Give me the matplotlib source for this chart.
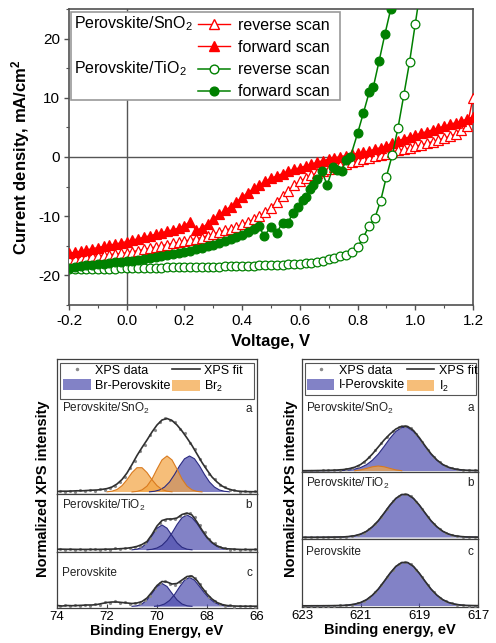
import matplotlib
matplotlib.use('Agg')
import matplotlib.pyplot as plt
from matplotlib.lines import Line2D
from matplotlib.patches import Patch, Rectangle
from matplotlib.ticker import MultipleLocator

plt.rcParams['font.family'] = ['Liberation Sans', 'DejaVu Sans']
plt.rcParams['axes.unicode_minus'] = False
plt.rcParams['mathtext.fontset'] = 'custom'
plt.rcParams['mathtext.rm'] = 'Liberation Sans'
plt.rcParams['mathtext.it'] = 'Liberation Sans:italic'
plt.rcParams['mathtext.bf'] = 'Liberation Sans:bold'

# ---------------- J-V data ----------------
v_sno2 = [-0.20, -0.18, -0.16, -0.14, -0.12, -0.10, -0.08, -0.06, -0.04, -0.02,
          0.00, 0.02, 0.04, 0.06, 0.08, 0.10, 0.12, 0.14, 0.16, 0.18,
          0.20, 0.22, 0.24, 0.26, 0.28, 0.30, 0.32, 0.34, 0.36, 0.38,
          0.40, 0.42, 0.44, 0.46, 0.48, 0.50, 0.52, 0.54, 0.56, 0.58,
          0.60, 0.62, 0.64, 0.66, 0.68, 0.70, 0.72, 0.74, 0.76, 0.78,
          0.80, 0.82, 0.84, 0.86, 0.88, 0.90, 0.92, 0.94, 0.96, 0.98,
          1.00, 1.02, 1.04, 1.06, 1.08, 1.10, 1.12, 1.14, 1.16, 1.18, 1.20]
j_sno2_rev = [-17.3, -17.15, -17.0, -16.9, -16.8, -16.7, -16.6, -16.5, -16.4, -16.3,
              -16.2, -16.0, -15.8, -15.6, -15.4, -15.2, -15.0, -14.8, -14.6, -14.4,
              -14.2, -14.0, -13.8, -13.6, -13.3, -13.0, -12.7, -12.4, -12.1, -11.8,
              -11.4, -11.0, -10.5, -10.0, -9.3, -8.6, -7.6, -6.6, -5.7, -4.8,
              -4.1, -3.6, -3.1, -2.7, -2.3, -2.0, -1.7, -1.4, -1.1, -0.8,
              -0.6, -0.4, -0.1, 0.1, 0.3, 0.5, 0.8, 1.1, 1.3, 1.5,
              1.8, 2.0, 2.3, 2.6, 2.9, 3.2, 3.5, 3.9, 4.5, 5.3, 10.0]
j_sno2_fwd = [-16.3, -16.1, -15.9, -15.7, -15.5, -15.3, -15.1, -14.9, -14.7, -14.5,
              -14.3, -14.05, -13.8, -13.55, -13.3, -13.05, -12.8, -12.55, -12.3, -12.0,
              -11.6, -10.9, -12.4, -12.0, -11.3, -10.5, -9.7, -9.0, -8.4, -7.6,
              -6.8, -6.0, -5.3, -4.7, -4.1, -3.6, -3.2, -2.8, -2.4, -2.1,
              -1.8, -1.5, -1.2, -0.9, -0.6, -0.4, -0.15, 0.05, 0.25, 0.45,
              0.6, 0.8, 1.0, 1.3, 1.6, 1.9, 2.3, 2.7, 3.1, 3.4,
              3.7, 4.0, 4.3, 4.6, 4.9, 5.2, 5.5, 5.8, 6.1, 6.4, 6.8]

v_tio2_rev = [-0.20, -0.18, -0.16, -0.14, -0.12, -0.10, -0.08, -0.06, -0.04, -0.02,
              0.00, 0.02, 0.04, 0.06, 0.08, 0.10, 0.12, 0.14, 0.16, 0.18,
              0.20, 0.22, 0.24, 0.26, 0.28, 0.30, 0.32, 0.34, 0.36, 0.38,
              0.40, 0.42, 0.44, 0.46, 0.48, 0.50, 0.52, 0.54, 0.56, 0.58,
              0.60, 0.62, 0.64, 0.66, 0.68, 0.70, 0.72, 0.74, 0.76, 0.78,
              0.80, 0.82, 0.84, 0.86, 0.88, 0.90, 0.92, 0.94, 0.96, 0.98,
              1.00, 1.02]
j_tio2_rev = [-19.0, -19.0, -18.95, -18.95, -18.9, -18.9, -18.9, -18.85, -18.85, -18.8,
              -18.8, -18.8, -18.75, -18.75, -18.7, -18.7, -18.7, -18.65, -18.65, -18.6,
              -18.6, -18.6, -18.55, -18.55, -18.5, -18.5, -18.5, -18.45, -18.45, -18.4,
              -18.4, -18.35, -18.35, -18.3, -18.3, -18.25, -18.2, -18.2, -18.15, -18.1,
              -18.0, -17.95, -17.85, -17.7, -17.5, -17.3, -17.1, -16.8, -16.5, -16.0,
              -15.2, -13.6, -11.6, -10.3, -7.4, -3.3, 0.3, 4.9, 10.4, 16.0,
              22.5, 29.0]

v_tio2_fwd = [-0.20, -0.18, -0.16, -0.14, -0.12, -0.10, -0.08, -0.06, -0.04, -0.02,
              0.00, 0.02, 0.04, 0.06, 0.08, 0.10, 0.12, 0.14, 0.16, 0.18,
              0.20, 0.22, 0.24, 0.26, 0.28, 0.30, 0.32, 0.34, 0.36, 0.38,
              0.40, 0.42, 0.44, 0.46, 0.475, 0.50, 0.52, 0.54, 0.56, 0.575,
              0.595, 0.61, 0.62, 0.635, 0.645, 0.66, 0.675, 0.695, 0.715, 0.73,
              0.745, 0.76, 0.775, 0.80, 0.82, 0.84, 0.855, 0.875, 0.895, 0.915]
j_tio2_fwd = [-18.7, -18.5, -18.4, -18.3, -18.2, -18.1, -18.0, -17.9, -17.8, -17.7,
              -17.6, -17.5, -17.4, -17.25, -17.1, -16.95, -16.8, -16.6, -16.4, -16.2,
              -16.0, -15.8, -15.6, -15.35, -15.1, -14.8, -14.5, -14.2, -13.85, -13.5,
              -13.1, -12.6, -12.1, -11.6, -13.4, -11.8, -12.8, -11.1, -11.1, -9.4,
              -8.4, -7.2, -6.7, -5.4, -4.7, -3.8, -2.4, -4.7, -1.7, -2.2,
              -2.4, -0.5, 0.0, 4.0, 7.4, 10.9, 11.9, 16.3, 20.8, 25.0]

v_ticks = [-0.2, 0.0, 0.2, 0.4, 0.6, 0.8, 1.0, 1.2]
j_ticks = [-20, -10, 0, 10, 20]

# ---------------- Br 3d XPS data ----------------
br_e = [74.0, 73.8, 73.6, 73.4, 73.2, 73.0, 72.8, 72.6, 72.4, 72.2,
        72.0, 71.8, 71.6, 71.4, 71.2, 71.0, 70.8, 70.6, 70.4, 70.2,
        70.0, 69.8, 69.6, 69.4, 69.2, 69.0, 68.8, 68.6, 68.4, 68.2,
        68.0, 67.8, 67.6, 67.4, 67.2, 67.0, 66.8, 66.6, 66.4, 66.2, 66.0]
br_e_data = [73.9, 73.7, 73.5, 73.3, 73.1, 72.9, 72.7, 72.5, 72.3, 72.1,
             71.9, 71.7, 71.5, 71.3, 71.1, 70.9, 70.7, 70.5, 70.3, 70.1,
             69.9, 69.7, 69.5, 69.3, 69.1, 68.9, 68.7, 68.5, 68.3, 68.1,
             67.9, 67.7, 67.5, 67.3, 67.1, 66.9, 66.7, 66.5, 66.3, 66.1]

br_fit_sno2 = [0.5, 0.8, 0.8, 1.0, 1.2, 1.2, 1.5, 1.8, 2.0, 2.6,
               3.4, 5.0, 8.0, 12.5, 19.0, 27.5, 36.5, 44.5, 52.0, 60.0,
               67.0, 72.0, 73.5, 71.5, 67.0, 61.0, 54.0, 46.5, 38.0, 29.5,
               22.0, 15.0, 10.0, 6.0, 3.5, 2.0, 1.0, 0.6, 0.4, 0.3, 0.3]
br_data_sno2 = [1.5, 0.0, 1.2, 0.5, 2.0, 1.0, 2.5, 1.5, 3.0, 2.5,
                4.5, 6.0, 10.5, 15.0, 24.0, 31.0, 41.5, 47.0, 57.5, 62.0,
                70.5, 74.0, 72.0, 70.5, 63.0, 59.0, 49.0, 43.5, 33.0, 26.5,
                18.0, 13.0, 7.5, 5.0, 2.0, 2.5, 0.5, 1.5, 0.0, 1.0]
br2_1_e = [72.0, 71.8, 71.6, 71.4, 71.2, 71.0, 70.8, 70.6, 70.4, 70.2, 70.0, 69.8, 69.6, 69.4]
br2_1_sno2 = [0.2, 0.8, 2.5, 6.3, 12.3, 19.4, 24.3, 24.3, 19.4, 12.3, 6.3, 2.5, 0.8, 0.2]
br2_2_e = [71.0, 70.8, 70.6, 70.4, 70.2, 70.0, 69.8, 69.6, 69.4, 69.2, 69.0, 68.8, 68.6, 68.4, 68.2]
br2_2_sno2 = [0.1, 0.6, 2.1, 5.9, 13.0, 22.9, 32.1, 36.0, 32.1, 22.9, 13.0, 5.9, 2.1, 0.6, 0.1]
brpv_e_sno2 = [70.3, 70.1, 69.9, 69.7, 69.5, 69.3, 69.1, 68.9, 68.7, 68.5, 68.3, 68.1, 67.9, 67.7, 67.5, 67.3, 67.1]
brpv_sno2 = [0.2, 0.7, 2.0, 4.9, 10.0, 17.5, 26.1, 33.2, 36.0, 33.2, 26.1, 17.5, 10.0, 4.9, 2.0, 0.7, 0.2]

br_fit_tio2 = [0.8, 0.8, 0.7, 0.7, 0.6, 0.6, 0.6, 0.6, 0.6, 0.7,
               0.8, 0.9, 1.1, 1.4, 1.8, 2.5, 3.6, 5.5, 8.5, 15.5,
               24.0, 29.5, 31.0, 31.0, 32.0, 35.5, 37.0, 35.0, 28.0, 20.0,
               12.8, 7.6, 4.2, 2.2, 1.2, 1.0, 0.7, 0.5, 0.5, 0.5, 0.5]
br_data_tio2 = [1.5, 0.3, 1.0, 0.0, 1.2, 0.2, 0.8, 1.5, 0.0, 1.0,
                0.5, 1.8, 0.8, 2.0, 2.5, 3.5, 4.0, 7.5, 12.0, 20.5,
                27.0, 30.5, 31.5, 31.0, 34.5, 36.0, 37.5, 33.5, 25.0, 18.0,
                11.0, 7.0, 3.5, 2.5, 0.5, 1.2, 0.2, 1.0, 0.3, 0.8]
brpv1_e = [71.0, 70.8, 70.6, 70.4, 70.2, 70.0, 69.8, 69.6, 69.4, 69.2, 69.0, 68.8, 68.6]
brpv1_tio2 = [0.2, 0.8, 2.7, 7.2, 14.4, 21.8, 25.0, 21.8, 14.4, 7.2, 2.7, 0.8, 0.2]
brpv2_e_tio2 = [70.4, 70.2, 70.0, 69.8, 69.6, 69.4, 69.2, 69.0, 68.8, 68.6, 68.4, 68.2, 68.0, 67.8, 67.6, 67.4, 67.2]
brpv2_tio2 = [0.2, 0.7, 2.0, 4.7, 9.7, 17.0, 25.4, 32.3, 35.0, 32.3, 26.5, 19.0, 12.0, 7.0, 3.5, 1.5, 0.5]

br_fit_pvk = [1.0, 0.5, 1.0, 0.8, 1.0, 1.2, 1.5, 1.5, 2.0, 3.0,
              4.0, 4.5, 4.5, 4.0, 3.5, 3.0, 3.5, 5.0, 8.5, 14.5,
              21.0, 25.0, 24.5, 22.5, 23.0, 26.5, 30.0, 30.5, 26.0, 19.0,
              12.5, 7.5, 4.0, 2.0, 1.0, 0.6, 0.4, 0.3, 0.3, 0.3, 0.3]
br_data_pvk = [0.3, 1.5, 0.5, 1.8, 0.8, 2.0, 1.0, 2.5, 1.8, 4.5,
               3.5, 5.5, 3.5, 5.0, 2.5, 3.8, 4.0, 7.0, 11.0, 18.5,
               24.0, 25.5, 23.0, 22.0, 25.0, 28.5, 31.0, 29.0, 22.5, 16.0,
               10.0, 5.5, 3.0, 1.0, 1.2, 0.0, 0.8, 0.2, 0.6, 0.0]
brpv1_pvk = [0.2, 0.7, 2.5, 6.6, 13.2, 20.0, 23.0, 20.0, 13.2, 6.6, 2.5, 0.7, 0.2]
brpv2_e_pvk = [70.1, 69.9, 69.7, 69.5, 69.3, 69.1, 68.9, 68.7, 68.5, 68.3, 68.1, 67.9, 67.7, 67.5, 67.3, 67.1]
brpv2_pvk = [0.2, 0.8, 2.5, 6.0, 11.9, 19.5, 26.3, 29.0, 26.3, 20.0, 13.5, 8.0, 4.0, 1.8, 0.7, 0.2]

br_ticks = [74, 72, 70, 68, 66]

# ---------------- I 3d XPS data ----------------
i_e = [623.0, 622.8, 622.6, 622.4, 622.2, 622.0, 621.8, 621.6, 621.4, 621.2,
       621.0, 620.8, 620.6, 620.4, 620.2, 620.0, 619.8, 619.6, 619.4, 619.2,
       619.0, 618.8, 618.6, 618.4, 618.2, 618.0, 617.8, 617.6, 617.4, 617.2, 617.0]
i_e_data = [622.9, 622.7, 622.5, 622.3, 622.1, 621.9, 621.7, 621.5, 621.3, 621.1,
            620.9, 620.7, 620.5, 620.3, 620.1, 619.9, 619.7, 619.5, 619.3, 619.1,
            618.9, 618.7, 618.5, 618.3, 618.1, 617.9, 617.7, 617.5, 617.3, 617.1]

i_fit_sno2 = [0.3, 0.35, 0.4, 0.5, 0.6, 0.75, 1.0, 1.4, 2.3, 3.8,
              6.5, 11.0, 17.0, 24.0, 31.0, 37.0, 42.0, 44.8, 44.6, 40.5,
              33.3, 25.0, 17.2, 11.0, 6.5, 3.7, 2.1, 1.2, 0.75, 0.6, 0.5]
ipv_sno2 = [0.1, 0.15, 0.2, 0.25, 0.3, 0.35, 0.45, 0.55, 1.0, 1.9,
            3.5, 6.3, 10.8, 16.9, 24.6, 32.7, 39.6, 43.5, 43.5, 39.6,
            32.7, 24.6, 16.9, 10.8, 6.3, 3.5, 1.9, 1.0, 0.55, 0.45, 0.35]
i_data_sno2 = [0.35, 0.35, 0.45, 0.55, 0.7, 0.85, 1.2, 1.8, 3.0, 5.0,
               8.6, 13.9, 20.6, 27.8, 34.3, 39.8, 43.8, 45.2, 43.0, 37.2,
               29.3, 21.0, 14.0, 8.6, 5.0, 2.8, 1.6, 1.0, 0.7, 0.55]
i2_e = [621.2, 621.0, 620.8, 620.6, 620.4, 620.2, 620.0, 619.8, 619.6]
i2_sno2 = [0.3, 1.1, 2.6, 4.2, 5.0, 4.2, 2.6, 1.1, 0.3]

i_fit_tio2 = [0.2, 0.2, 0.2, 0.25, 0.3, 0.35, 0.45, 0.55, 1.0, 1.8,
              3.4, 6.2, 10.7, 16.7, 24.4, 32.4, 39.1, 43.0, 43.0, 39.1,
              32.4, 24.4, 16.7, 10.7, 6.2, 3.4, 1.8, 1.0, 0.55, 0.45, 0.35]
i_data_tio2 = [0.3, 0.1, 0.3, 0.2, 0.4, 0.3, 0.6, 0.8, 1.5, 2.5,
               4.8, 8.4, 13.7, 20.6, 28.6, 36.1, 41.5, 43.6, 41.6, 36.0,
               28.4, 20.5, 13.5, 8.4, 4.8, 2.6, 1.4, 0.8, 0.6, 0.3]

i_fit_pvk = [0.2, 0.2, 0.25, 0.25, 0.3, 0.35, 0.45, 0.55, 1.0, 1.9,
             3.5, 6.3, 10.8, 16.9, 24.6, 32.7, 39.6, 43.5, 43.5, 39.6,
             32.7, 24.6, 16.9, 10.8, 6.3, 3.5, 1.9, 1.0, 0.55, 0.45, 0.35]
i_data_pvk = [0.2, 0.3, 0.2, 0.3, 0.3, 0.5, 0.6, 0.8, 1.4, 2.6,
              4.9, 8.5, 13.9, 20.9, 28.8, 36.5, 42.0, 44.2, 42.0, 36.3,
              28.7, 20.7, 13.7, 8.5, 4.8, 2.7, 1.4, 0.8, 0.5, 0.4]

i_ticks = [623, 621, 619, 617]

RED = '#ff0000'
GREEN = '#008000'
BLUE = '#5252b0'
BLUE_EDGE = '#2a2a80'
ORANGE = '#f3a545'
ORANGE_EDGE = '#d97a1e'
FRAME = '#505050'

W, H = 496, 643
fig = plt.figure(figsize=(W / 100, H / 100), dpi=100)


def box(x0, y0, x1, y1):
    """pixel box (top-left origin) -> figure fractions"""
    return [x0 / W, 1 - y1 / H, (x1 - x0) / W, (y1 - y0) / H]


# ================= J-V panel =================
ax = fig.add_axes(box(69, 9, 473, 305))
ax.axhline(0, color='#555555', lw=1.0, zorder=1)
ax.axvline(0, color='#555555', lw=1.0, zorder=1)

ax.plot(v_sno2, j_sno2_rev, '-', color=RED, lw=1.0, marker='^', ms=7.5,
        mfc='white', mec=RED, mew=0.9, zorder=3)
ax.plot(v_sno2, j_sno2_fwd, '-', color=RED, lw=1.0, marker='^', ms=7.5,
        mfc=RED, mec=RED, mew=0.9, zorder=3)
ax.plot(v_tio2_rev, j_tio2_rev, '-', color=GREEN, lw=1.1, marker='o', ms=6.3,
        mfc='white', mec=GREEN, mew=0.9, zorder=3)
ax.plot(v_tio2_fwd, j_tio2_fwd, '-', color=GREEN, lw=1.1, marker='o', ms=6.3,
        mfc=GREEN, mec=GREEN, mew=0.9, zorder=3)

ax.set_xlim(-0.2, 1.2)
ax.set_ylim(-25, 25)
ax.set_xticks(v_ticks)
ax.set_xticklabels([f'{v:.1f}' for v in v_ticks])
ax.set_yticks(j_ticks)
ax.xaxis.set_minor_locator(MultipleLocator(0.1))
ax.yaxis.set_minor_locator(MultipleLocator(5))
ax.tick_params(which='major', direction='out', length=3.5, width=1.0,
               color=FRAME, labelsize=11, pad=3)
ax.tick_params(which='minor', direction='out', length=2, width=0.8, color=FRAME)
for s in ax.spines.values():
    s.set_color(FRAME)
    s.set_linewidth(1.2)
ax.set_xlabel('Voltage, V', fontsize=12, fontweight='bold', labelpad=4)
ax.set_ylabel('Current density, mA/cm$^\\mathbf{2}$', fontsize=12,
              fontweight='bold', labelpad=4)

# legend box with group labels
ax.add_patch(Rectangle((0.005, 0.693), 0.666, 0.297, transform=ax.transAxes,
                       facecolor='white', edgecolor='#999999', lw=1.2, zorder=4))
ax.text(0.012, 0.936, 'Perovskite/SnO$_2$', transform=ax.transAxes,
        fontsize=11.5, va='baseline', ha='left', zorder=6)
ax.text(0.012, 0.784, 'Perovskite/TiO$_2$', transform=ax.transAxes,
        fontsize=11.5, va='baseline', ha='left', zorder=6)
handles = [
    Line2D([], [], color=RED, lw=1.0, marker='^', ms=7.5, mfc='white', mec=RED),
    Line2D([], [], color=RED, lw=1.0, marker='^', ms=7.5, mfc=RED, mec=RED),
    Line2D([], [], color=GREEN, lw=1.1, marker='o', ms=6.3, mfc='white', mec=GREEN),
    Line2D([], [], color=GREEN, lw=1.1, marker='o', ms=6.3, mfc=GREEN, mec=GREEN),
]
labels = ['reverse scan', 'forward scan', 'reverse scan', 'forward scan']
leg = ax.legend(handles, labels, loc='upper left', bbox_to_anchor=(0.319, 0.97),
                frameon=False, fontsize=11.5, handlelength=2.0, handletextpad=0.5,
                labelspacing=0.45, borderpad=0, borderaxespad=0, numpoints=1)
leg.set_zorder(6)


# ================= XPS panels =================
def style_xps(a, xlim, ylim, ticks=None):
    a.set_xlim(*xlim)
    a.set_ylim(*ylim)
    a.set_yticks([])
    for s in a.spines.values():
        s.set_color('#404040')
        s.set_linewidth(0.9)
    if ticks is None:
        a.set_xticks([])
    else:
        a.set_xticks(ticks)
        a.tick_params(axis='x', direction='in', length=3, width=0.8,
                      color='#404040', labelsize=9.5, pad=2)


def fill_comp(a, e, y, face, edge):
    a.fill_between(e, 0, y, facecolor=face, alpha=0.72, lw=0, zorder=2)
    a.plot(e, y, color=edge, lw=0.8, zorder=2.5)


def fit_and_data(a, e, fit, e_data, data):
    a.plot(e_data, data, ls='none', marker='.', ms=2.5, color='#8a8a8a', zorder=3)
    a.plot(e, fit, color='#303030', lw=1.2, zorder=4)


def xps_legend(a, comp_label, comp2_label, frame_box, anchor):
    # frame drawn as a patch spanning the panel width, entries placed inside
    x0, y0, x1, y1 = frame_box
    a.add_patch(Rectangle((x0, y0), x1 - x0, y1 - y0, transform=a.transAxes,
                          facecolor='white', edgecolor='#555555', lw=0.8, zorder=5))
    hs = [Line2D([], [], ls='none', marker='.', ms=3, color='#8a8a8a'),
          Patch(facecolor=BLUE, alpha=0.72, edgecolor='none'),
          Line2D([], [], color='#303030', lw=1.2),
          Patch(facecolor=ORANGE, alpha=0.72, edgecolor='none')]
    ls = ['XPS data', comp_label, 'XPS fit', comp2_label]
    lg = a.legend(hs, ls, ncol=2, loc='upper left', bbox_to_anchor=anchor,
                  fontsize=9, handlelength=2.2, handleheight=1.0,
                  handletextpad=0.35, labelspacing=0.15, borderpad=0,
                  borderaxespad=0, columnspacing=0.15, frameon=False, numpoints=1)
    lg.set_zorder(6)


def panel_text(a, label, letter, y):
    a.text(0.025, y, label, transform=a.transAxes, fontsize=8.5, va='center',
           ha='left', color='#222222', zorder=5)
    a.text(0.975, y, letter, transform=a.transAxes, fontsize=8.5, va='center',
           ha='right', color='#222222', zorder=5)


# ---- Br 3d (left) ----
la = fig.add_axes(box(57, 359, 257, 494))
lb = fig.add_axes(box(57, 494, 257, 552))
lc = fig.add_axes(box(57, 552, 257, 608))

fill_comp(la, brpv_e_sno2, brpv_sno2, BLUE, BLUE_EDGE)
fill_comp(la, br2_1_e, br2_1_sno2, ORANGE, ORANGE_EDGE)
fill_comp(la, br2_2_e, br2_2_sno2, ORANGE, ORANGE_EDGE)
fit_and_data(la, br_e, br_fit_sno2, br_e_data, br_data_sno2)
style_xps(la, (74, 66), (-2, 133))
xps_legend(la, 'Br-Perovskite', 'Br$_2$', (0.015, 0.704, 0.985, 0.970), (0.03, 0.963))
panel_text(la, 'Perovskite/SnO$_2$', 'a', 0.63)

fill_comp(lb, brpv1_e, brpv1_tio2, BLUE, BLUE_EDGE)
fill_comp(lb, brpv2_e_tio2, brpv2_tio2, BLUE, BLUE_EDGE)
fit_and_data(lb, br_e, br_fit_tio2, br_e_data, br_data_tio2)
style_xps(lb, (74, 66), (-2, 56))
panel_text(lb, 'Perovskite/TiO$_2$', 'b', 0.81)

fill_comp(lc, brpv1_e, brpv1_pvk, BLUE, BLUE_EDGE)
fill_comp(lc, brpv2_e_pvk, brpv2_pvk, BLUE, BLUE_EDGE)
fit_and_data(lc, br_e, br_fit_pvk, br_e_data, br_data_pvk)
style_xps(lc, (74, 66), (-1.5, 54.5), br_ticks)
panel_text(lc, 'Perovskite', 'c', 0.625)
lc.set_xlabel('Binding Energy, eV', fontsize=10.5, fontweight='bold', labelpad=1)

# ---- I 3d (right) ----
ra = fig.add_axes(box(302, 359, 478, 472))
rb = fig.add_axes(box(302, 472, 478, 539))
rc = fig.add_axes(box(302, 539, 478, 607))

fill_comp(ra, i_e, ipv_sno2, BLUE, BLUE_EDGE)
fill_comp(ra, i2_e, i2_sno2, ORANGE, ORANGE_EDGE)
fit_and_data(ra, i_e, i_fit_sno2, i_e_data, i_data_sno2)
style_xps(ra, (623, 617), (-1, 112))
xps_legend(ra, 'I-Perovskite', 'I$_2$', (0.017, 0.681, 0.989, 0.965), (0.027, 0.957))
panel_text(ra, 'Perovskite/SnO$_2$', 'a', 0.566)

fill_comp(rb, i_e, i_fit_tio2, BLUE, BLUE_EDGE)
fit_and_data(rb, i_e, i_fit_tio2, i_e_data, i_data_tio2)
style_xps(rb, (623, 617), (-1.5, 65.5))
panel_text(rb, 'Perovskite/TiO$_2$', 'b', 0.836)

fill_comp(rc, i_e, i_fit_pvk, BLUE, BLUE_EDGE)
fit_and_data(rc, i_e, i_fit_pvk, i_e_data, i_data_pvk)
style_xps(rc, (623, 617), (-1, 67), i_ticks)
panel_text(rc, 'Perovskite', 'c', 0.81)
rc.set_xlabel('Binding energy, eV', fontsize=10.5, fontweight='bold', labelpad=1)

fig.text(43 / W, 1 - 489 / H, 'Normalized XPS intensity', rotation=90,
         fontsize=10.5, fontweight='bold', ha='center', va='center')
fig.text(291 / W, 1 - 489 / H, 'Normalized XPS intensity', rotation=90,
         fontsize=10.5, fontweight='bold', ha='center', va='center')

fig.savefig('out.png', dpi=100)
